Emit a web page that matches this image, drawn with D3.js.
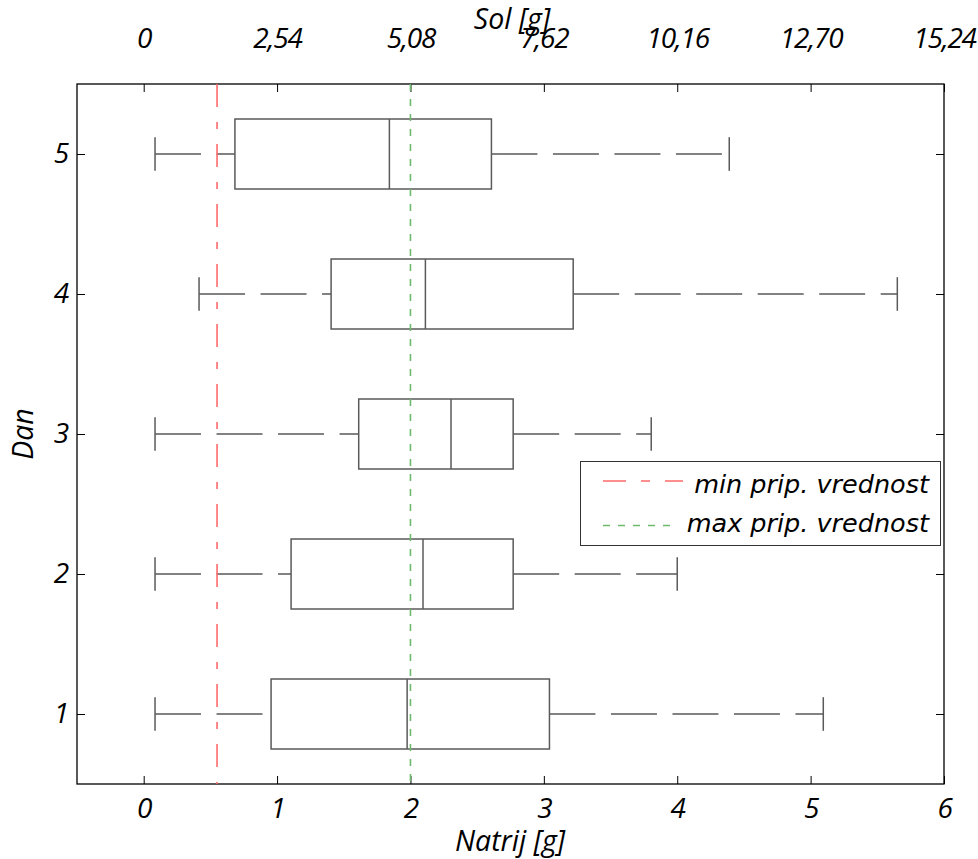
<!DOCTYPE html>
<html><head><meta charset="utf-8">
<script src="https://cdn.jsdelivr.net/npm/d3@7"></script>
<style>
body{margin:0;background:#fff;}
text{font-style:italic;}
</style></head>
<body><svg id="c" width="978" height="859"></svg>
<script>
// Data
const days = [1, 2, 3, 4, 5];
const whiskerLow  = [0.085, 0.085, 0.085, 0.415, 0.085];
const q1          = [0.955, 1.105, 1.612, 1.405, 0.684];
const median      = [1.975, 2.094, 2.304, 2.112, 1.842];
const q3          = [3.042, 2.770, 2.770, 3.220, 2.607];
const whiskerHigh = [5.095, 4.000, 3.805, 5.650, 4.390];
const minValue = 0.55;   // min prip. vrednost
const maxValue = 2.0;    // max prip. vrednost
const natrijTicks = [0, 1, 2, 3, 4, 5, 6];
const solTickLabels = ["0", "2,54", "5,08", "7,62", "10,16", "12,70", "15,24"];
const legendLabels = ["min prip. vrednost", "max prip. vrednost"];

const svg = d3.select("#c");
const L = 77, R = 944, T = 84, B = 784;
const x = d3.scaleLinear().domain([-0.5, 6]).range([L, R]);
const y = d3.scaleLinear().domain([0.5, 5.5]).range([B, T]);
const boxColor = "#5a5a5a";
const fs = 28;
const axisFont = "'Open Sans', sans-serif";

// frame
svg.append("rect").attr("x", L).attr("y", T).attr("width", R - L).attr("height", B - T)
  .attr("fill", "#fff").attr("stroke", "#000").attr("stroke-width", 1.3);

// axes
function styleAxis(g){
  g.select(".domain").remove();
  g.selectAll("line").attr("stroke", "#000");
  g.selectAll("text").attr("font-size", fs).style("font-family", axisFont).style("font-style", "italic")
    .style("letter-spacing", "-1.2px").attr("fill", "#000");
}
svg.append("g").attr("transform", `translate(0,${B})`)
  .call(d3.axisBottom(x).tickValues(natrijTicks).tickFormat(d3.format("d")).tickSizeInner(-8).tickSizeOuter(0).tickPadding(14))
  .call(styleAxis);
svg.append("g").attr("transform", `translate(0,${T})`)
  .call(d3.axisTop(x).tickValues(natrijTicks).tickFormat((d, i) => solTickLabels[i]).tickSizeInner(-8).tickSizeOuter(0).tickPadding(36))
  .call(styleAxis);
svg.append("g").attr("transform", `translate(${L},0)`)
  .call(d3.axisLeft(y).tickValues(days).tickFormat(d3.format("d")).tickSizeInner(-8).tickSizeOuter(0).tickPadding(9))
  .call(styleAxis);
svg.append("g").attr("transform", `translate(${R},0)`)
  .call(d3.axisRight(y).tickValues(days).tickFormat("").tickSizeInner(-8).tickSizeOuter(0))
  .call(styleAxis);

// titles
function title(sel){ return sel.style("font-family", axisFont).style("font-style", "italic").attr("text-anchor", "middle").attr("font-size", 28.5); }
title(svg.append("text").attr("x", 512).attr("y", 29).text("Sol [g]"));
title(svg.append("text").attr("x", 510).attr("y", 851).text("Natrij [g]"));
title(svg.append("text").attr("transform", "translate(33,434) rotate(-90)").text("Dan"));

// boxes
const data = days.map((d, i) => ({day: d, lo: whiskerLow[i], q1: q1[i], med: median[i], q3: q3[i], hi: whiskerHigh[i]}));
const bh = 0.25, ch = 0.12;
const g = svg.append("g").attr("stroke", boxColor).attr("stroke-width", 1.5).attr("fill", "none");
data.forEach(d => {
  const yc = y(d.day);
  g.append("line").attr("x1", x(d.lo)).attr("x2", x(d.q1)).attr("y1", yc).attr("y2", yc).attr("stroke-dasharray", "46,15.5");
  g.append("line").attr("x1", x(d.q3)).attr("x2", x(d.hi)).attr("y1", yc).attr("y2", yc).attr("stroke-dasharray", "46,15.5");
  g.append("line").attr("x1", x(d.lo)).attr("x2", x(d.lo)).attr("y1", y(d.day + ch)).attr("y2", y(d.day - ch));
  g.append("line").attr("x1", x(d.hi)).attr("x2", x(d.hi)).attr("y1", y(d.day + ch)).attr("y2", y(d.day - ch));
  g.append("rect").attr("x", x(d.q1)).attr("y", y(d.day + bh)).attr("width", x(d.q3) - x(d.q1)).attr("height", y(d.day - bh) - y(d.day + bh));
  g.append("line").attr("x1", x(d.med)).attr("x2", x(d.med)).attr("y1", y(d.day + bh)).attr("y2", y(d.day - bh));
});

// reference lines
const redC = "#ff6b6b", greenC = "#6cbb6c";
svg.append("line").attr("x1", x(minValue)).attr("x2", x(minValue)).attr("y1", T).attr("y2", B)
  .attr("stroke", redC).attr("stroke-width", 1.6).attr("stroke-dasharray", "23,15,7,15");
svg.append("line").attr("x1", x(maxValue)).attr("x2", x(maxValue)).attr("y1", T).attr("y2", B)
  .attr("stroke", greenC).attr("stroke-width", 1.6).attr("stroke-dasharray", "7,8");

// legend
const lg = svg.append("g");
lg.append("rect").attr("x", 580.5).attr("y", 461.5).attr("width", 360).attr("height", 84)
  .attr("fill", "#fff").attr("stroke", "#333").attr("stroke-width", 1);
lg.append("line").attr("x1", 603).attr("x2", 683).attr("y1", 481).attr("y2", 481)
  .attr("stroke", redC).attr("stroke-width", 1.6).attr("stroke-dasharray", "23,15,9,15");
lg.append("line").attr("x1", 603).attr("x2", 672).attr("y1", 525.5).attr("y2", 525.5)
  .attr("stroke", greenC).attr("stroke-width", 1.6).attr("stroke-dasharray", "7,8");
lg.selectAll("text.lt").data(legendLabels).join("text").attr("class", "lt")
  .attr("x", 929).attr("y", (d, i) => i === 0 ? 493 : 532).attr("text-anchor", "end")
  .style("font-family", "'DejaVu Sans', sans-serif").style("font-style", "oblique").attr("font-size", 25.5).text(d => d);
</script></body></html>
